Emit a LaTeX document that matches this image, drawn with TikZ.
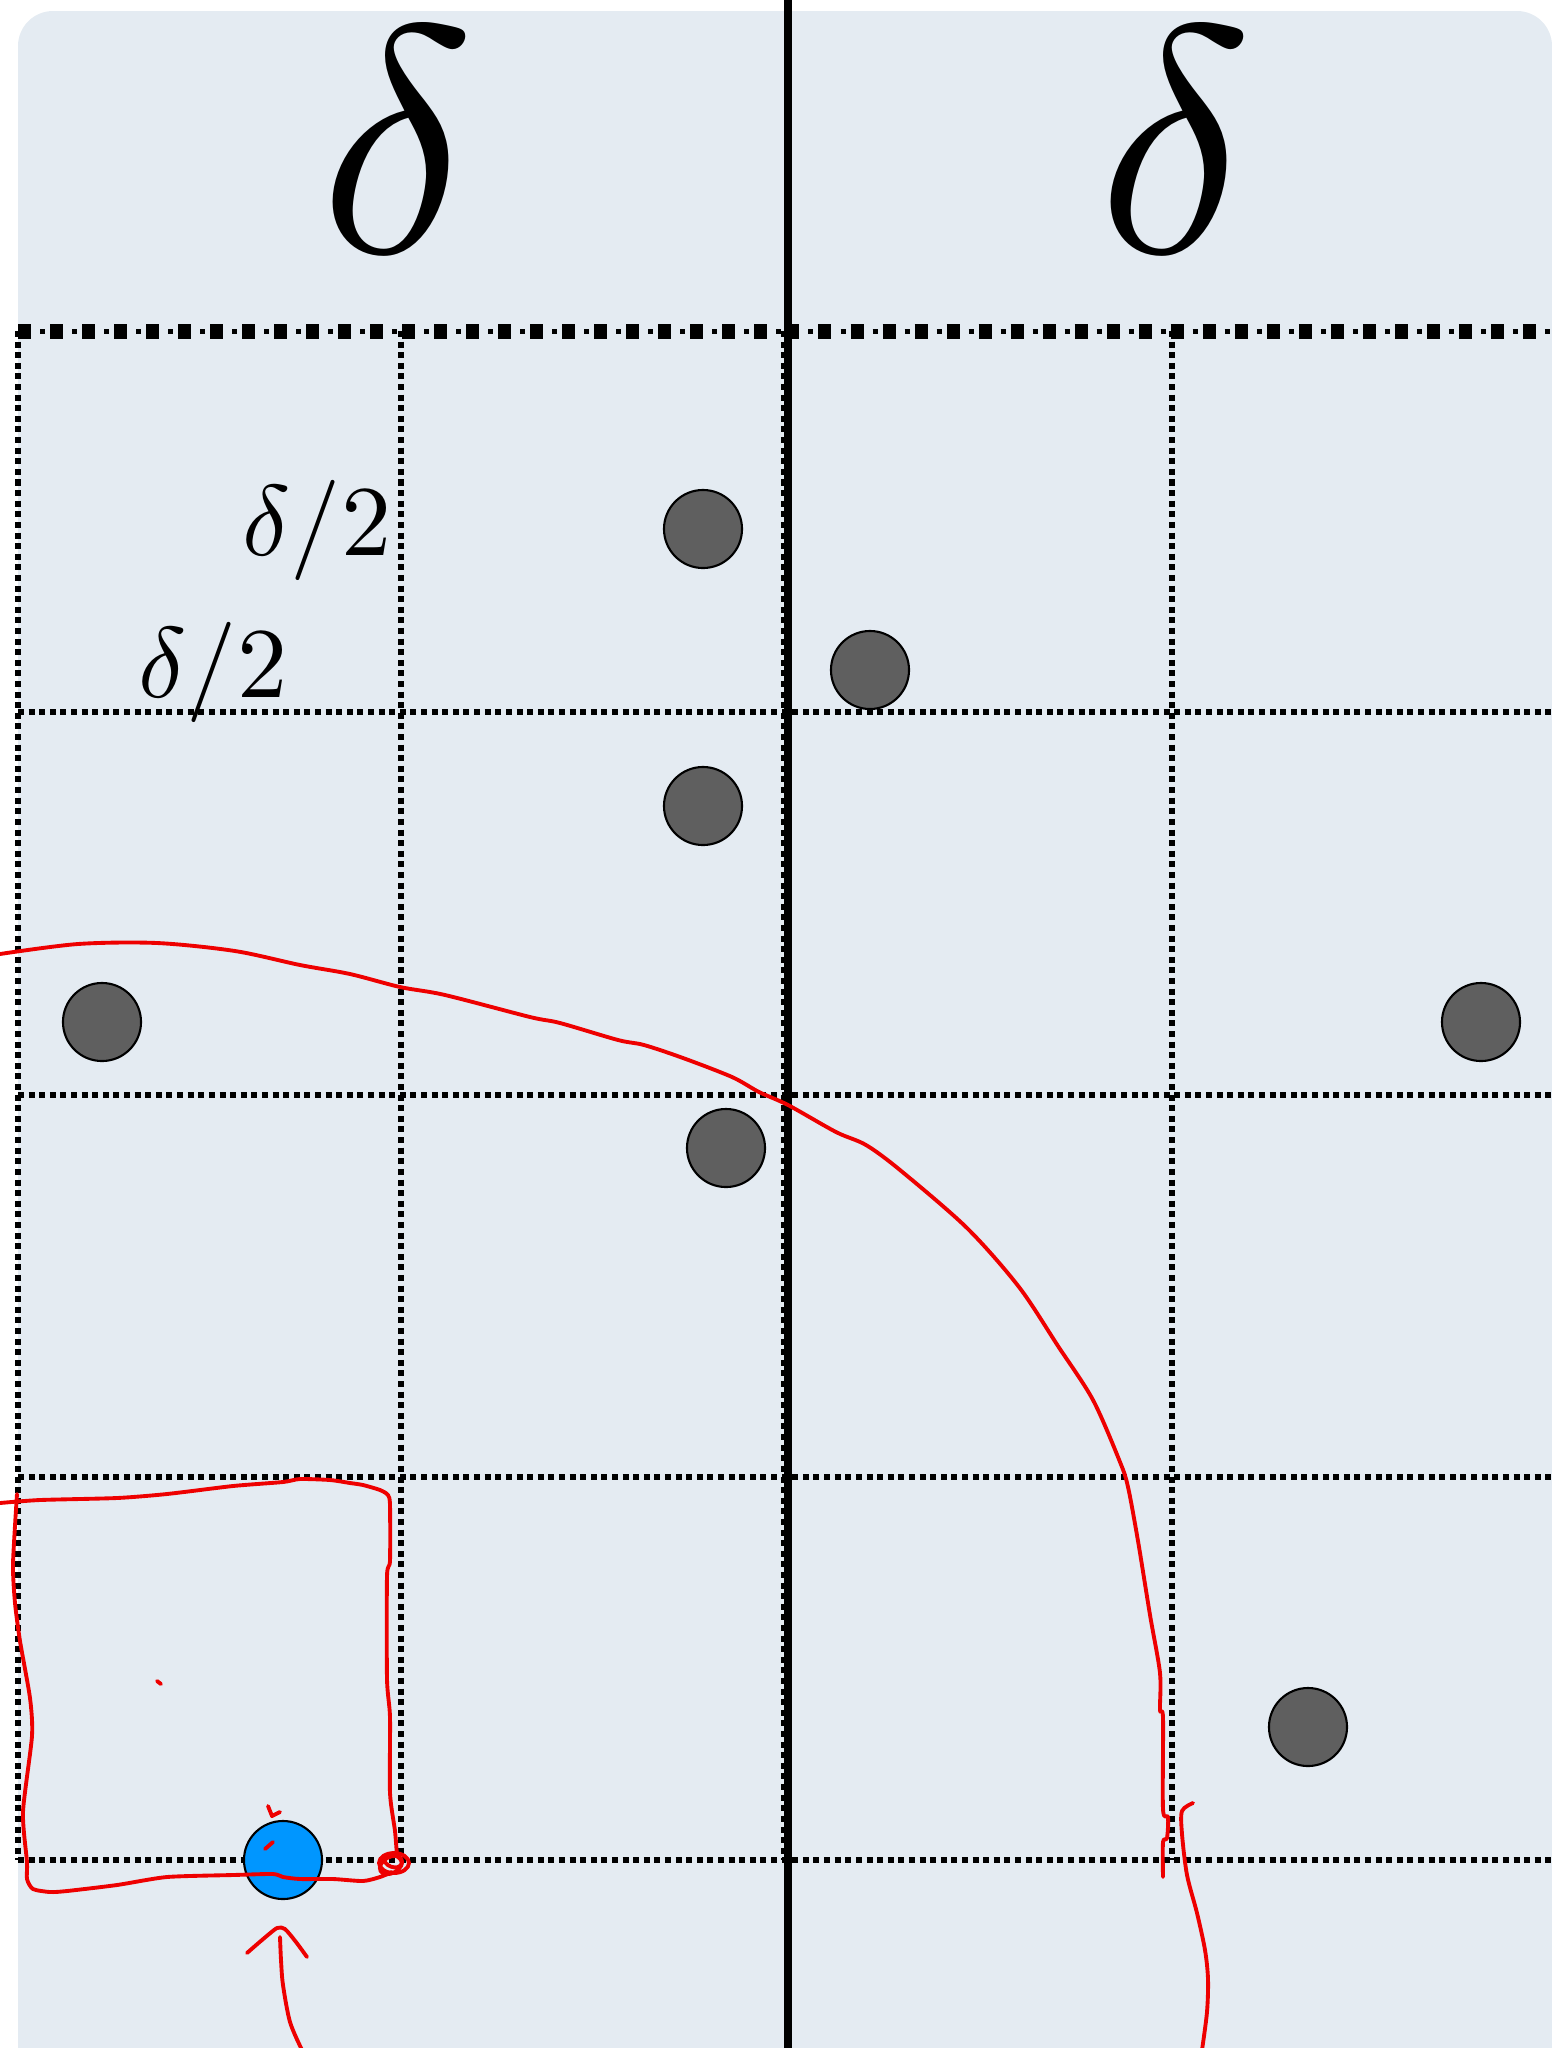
\documentclass[tikz,border=0pt]{standalone}
\usepackage{tikz}
\usetikzlibrary{positioning}
\definecolor{panel}{RGB}{228,235,242}
\definecolor{ptgray}{RGB}{95,95,95}
\definecolor{ptblue}{RGB}{0,150,255}
\definecolor{pen}{RGB}{238,0,0}

\begin{document}
\begin{tikzpicture}[x=0.01cm,y=-0.01cm,
    gridline/.style={line width=0.06cm,dash pattern=on 0.06cm off 0.046cm},
    pt/.style={circle,draw=black,line width=0.6pt,fill=ptgray,minimum size=0.78cm,inner sep=0pt},
    ink/.style={pen,line width=1.1pt,line cap=round,line join=round}]
  \clip (0,0) rectangle (1552,2048);
  % panel behind everything
  \fill[panel,rounded corners=0.35cm] (18,11) rectangle (1552,2100);
  % dotted grid of delta/2 cells
  \foreach \gx in {18,401,784,1172}
    \draw[gridline] (\gx,331) -- (\gx,1860);
  \foreach \gy in {712,1095,1477,1860}
    \draw[gridline] (18,\gy) -- (1552,\gy);
  % top edge: big squares with small dots between
  \draw[line width=0.15cm,dash pattern=on 0.13cm off 0.19cm] (18,331) -- (1552,331);
  \draw[line width=0.05cm,dash pattern=on 0.05cm off 0.27cm,dash phase=0.1cm] (18,331) -- (1552,331);
  % the cut between the two halves
  \draw[line width=0.08cm] (788,0) -- (788,2048);
  % labels
  \node[anchor=base,scale=9.2,inner sep=0pt] (dl) at (398,252) {$\delta$};
  \node[anchor=base,scale=9.2,inner sep=0pt] (dr) at (1176,252) {$\delta$};
  \node[anchor=base,scale=2.85,inner sep=0pt] (hv) at (317,555) {$\delta/2$};
  \node[anchor=base,scale=2.85,inner sep=0pt] (hh) at (213,697) {$\delta/2$};
  % points
  \foreach \n/\px/\py in {1/703/529,2/870/670,3/703/806,4/102/1022,5/1481/1022,6/726/1148,7/1308/1727}
    \node[pt] (p\n) at (\px,\py) {};
  \node[pt,fill=ptblue] (q) at (283,1860) {};
  % hand-drawn marks
  \draw[ink] plot[smooth,tension=0.5] coordinates {(0,954) (78,944) (157,943) (235,951) (300,965)
    (350,974) (400,987) (445,995) (530,1017) (560,1023) (618,1040) (644,1045) (683,1058)
    (732,1077) (759,1092) (788,1105) (836,1132) (866,1145) (900,1170)
    (967,1228) (1019,1287) (1058,1346) (1093,1400) (1120,1462) (1128,1487)
    (1138,1541) (1150,1615) (1160,1673) (1160,1710) (1163,1718) (1163,1809) (1168,1817)
    (1167,1838) (1163,1842) (1163,1877)};
  \draw[ink] plot[smooth,tension=0.5] coordinates {(1193,1803) (1182,1811) (1182,1834)
    (1187,1875) (1197,1913) (1205,1950) (1208,1979) (1207,2012) (1202,2050)};
  \draw[ink] plot[smooth,tension=0.4] coordinates {(0,1503) (40,1500) (117,1498) (167,1494)
    (233,1486) (283,1482) (300,1479) (330,1480) (350,1483) (363,1485) (380,1490) (388,1495)
    (390,1505) (390,1561) (387,1576) (387,1679) (390,1717) (390,1793) (395,1831) (397,1856)};
  % scribble at the cell corner
  \draw[ink] (394,1863) ellipse [x radius=15,y radius=10];
  \draw[ink,rotate around={30:(391,1865)}] (391,1865) ellipse [x radius=12,y radius=8];
  \draw[ink,rotate around={-20:(393,1861)}] (393,1861) ellipse [x radius=9,y radius=6];
  \draw[ink] plot[smooth,tension=0.4] coordinates {(392,1872) (380,1877) (363,1881) (333,1879)
    (300,1879) (283,1877) (273,1874) (233,1875) (167,1877) (117,1885) (67,1891) (50,1892)
    (33,1889) (27,1879) (27,1862) (23,1812) (32,1736) (30,1698) (20,1641) (15,1603)
    (13,1564) (17,1494)};
  \draw[ink] (157,1681) -- (161,1684);
  \draw[ink] (268,1806) -- (272,1816) -- (280,1812);
  \draw[ink] (265,1849) -- (273,1842);
  % arrow up to the blue point
  \draw[ink] plot[smooth,tension=0.5] coordinates {(302,2050) (290,2022) (283,1985) (281,1960) (280,1937)};
  \draw[ink] plot[smooth,tension=0.4] coordinates {(247,1953) (262,1940) (277,1928) (285,1929) (296,1942) (307,1957)};
\end{tikzpicture}
\end{document}
